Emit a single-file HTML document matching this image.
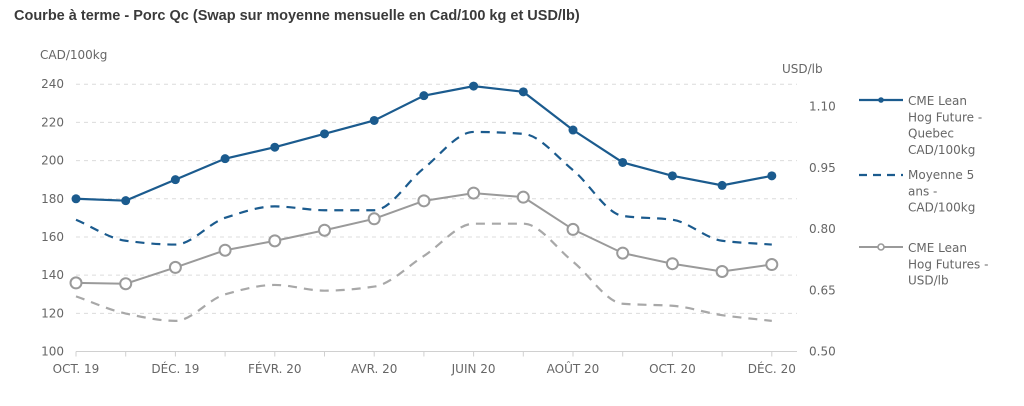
<!DOCTYPE html>
<html><head><meta charset="utf-8">
<style>
html,body{margin:0;padding:0;background:#fff;}
body{width:1024px;height:406px;overflow:hidden;position:relative;font-family:"Liberation Sans","DejaVu Sans",sans-serif;}
#title{position:absolute;left:14px;top:8px;font-size:14.5px;font-weight:bold;color:#3a3a3a;white-space:nowrap;}
svg{position:absolute;left:0;top:0;}
svg text{font-family:"DejaVu Sans","Liberation Sans",sans-serif;fill:#666;}
</style></head><body>
<div id="title">Courbe à terme - Porc Qc (Swap sur moyenne mensuelle en Cad/100 kg et USD/lb)</div>
<svg id="chart" width="1024" height="406"></svg>
<script>
const months = ["OCT. 19","NOV. 19","DÉC. 19","JANV. 20","FÉVR. 20","MARS 20","AVR. 20","MAI 20","JUIN 20","JUIL. 20","AOÛT 20","SEPT. 20","OCT. 20","NOV. 20","DÉC. 20"];
const monthLabelShown = [true,false,true,false,true,false,true,false,true,false,true,false,true,false,true];
const cmeQuebecCad = [180,179,190,201,207,214,221,234,239,236,216,199,192,187,192];
const avg5Cad = [169,158,156,170,176,174,174,196,215,214,195,171,169,158,156];
const cmeUsd = [0.668,0.666,0.706,0.748,0.771,0.797,0.825,0.869,0.888,0.878,0.799,0.741,0.715,0.696,0.713];
const avg5Usd = [0.635,0.593,0.575,0.640,0.663,0.649,0.659,0.734,0.813,0.813,0.720,0.617,0.612,0.589,0.575];
const leftTicks = [100,120,140,160,180,200,220,240];
const rightTicks = [0.50,0.65,0.80,0.95,1.10];

const NS="http://www.w3.org/2000/svg";
const svg=document.getElementById('chart');
const X0=76, DX=49.7, YB=351.5;
const x=i=>X0+i*DX;
const yL=v=>YB-(v-100)*(267.3/140);
const yR=v=>YB-(v-0.5)*408.3;
function mk(tag,attrs,parent){const e=document.createElementNS(NS,tag);for(const k in attrs)e.setAttribute(k,attrs[k]);(parent||svg).appendChild(e);return e;}
const BLUE="#1b5b8e", GRAY="#9a9a9a";

leftTicks.forEach(t=>{
  if(t>100){const g=mk('line',{x1:X0,x2:797,y1:yL(t),y2:yL(t),stroke:"#dcdcdc","stroke-width":1,"stroke-dasharray":"4,4"});
  
  }
  const tx=mk('text',{x:64,y:yL(t)+4,"text-anchor":"end","font-size":12});
  tx.textContent=t;
  
  
});
rightTicks.forEach(t=>{
  const tx=mk('text',{x:809,y:yR(t)+4,"font-size":12});
  tx.textContent=t.toFixed(2);
  
  
});
let a=mk('text',{x:40,y:59,"font-size":12});a.textContent="CAD/100kg";


a=mk('text',{x:782,y:73,"font-size":12});a.textContent="USD/lb";



const ax=mk('line',{x1:X0,x2:797,y1:YB,y2:YB,stroke:"#d0d0d0","stroke-width":1});


months.forEach((m,i)=>{
  mk('line',{x1:x(i),x2:x(i),y1:YB,y2:YB+5,stroke:"#d0d0d0","stroke-width":1});
  if(monthLabelShown[i]){const t=mk('text',{x:x(i),y:373,"text-anchor":"middle","font-size":12});t.textContent=m;
  
  }
});

// monotone cubic interpolation (no overshoot)
function monoPath(pts){
  const n=pts.length, dx=[], s=[], m=[];
  for(let i=0;i<n-1;i++){dx[i]=pts[i+1][0]-pts[i][0];s[i]=(pts[i+1][1]-pts[i][1])/dx[i];}
  m[0]=s[0];m[n-1]=s[n-2];
  for(let i=1;i<n-1;i++){
    if(s[i-1]*s[i]<=0)m[i]=0;
    else{const w1=2*dx[i]+dx[i-1],w2=dx[i]+2*dx[i-1];m[i]=(w1+w2)/(w1/s[i-1]+w2/s[i]);}
  }
  let d=`M${pts[0][0]},${pts[0][1]}`;
  for(let i=0;i<n-1;i++){
    const h=dx[i]/3;
    d+=` C${pts[i][0]+h},${pts[i][1]+m[i]*h} ${pts[i+1][0]-h},${pts[i+1][1]-m[i+1]*h} ${pts[i+1][0]},${pts[i+1][1]}`;
  }
  return d;
}
let p=mk('path',{d:monoPath(avg5Usd.map((v,i)=>[x(i),yR(v)])),fill:"none",stroke:"#a8a8a8","stroke-width":2.2,"stroke-dasharray":"9,7"});


p=mk('path',{d:monoPath(avg5Cad.map((v,i)=>[x(i),yL(v)])),fill:"none",stroke:BLUE,"stroke-width":2.2,"stroke-dasharray":"9,7"});


p=mk('polyline',{points:cmeUsd.map((v,i)=>x(i)+','+yR(v)).join(' '),fill:"none",stroke:GRAY,"stroke-width":2});


cmeUsd.forEach((v,i)=>{const c=mk('circle',{cx:x(i),cy:yR(v),r:5.5,fill:"#fff",stroke:GRAY,"stroke-width":2});

});
p=mk('polyline',{points:cmeQuebecCad.map((v,i)=>x(i)+','+yL(v)).join(' '),fill:"none",stroke:BLUE,"stroke-width":2.2});


cmeQuebecCad.forEach((v,i)=>{const c=mk('circle',{cx:x(i),cy:yL(v),r:4.5,fill:BLUE});

});

function legText(lines,y0){lines.forEach((s,k)=>{const t=mk('text',{x:908,y:y0+k*16.3,"font-size":12});t.textContent=s;

});}
let g=mk('g',{});
mk('line',{x1:859,x2:903,y1:100,y2:100,stroke:BLUE,"stroke-width":2.2},g);
mk('circle',{cx:881,cy:100,r:2.8,fill:BLUE},g);
legText(["CME Lean","Hog Future -","Quebec","CAD/100kg"],105);
g=mk('g',{});
mk('line',{x1:859,x2:903,y1:175,y2:175,stroke:BLUE,"stroke-width":2.2,"stroke-dasharray":"8,6"},g);
legText(["Moyenne 5","ans -","CAD/100kg"],179);
g=mk('g',{});
mk('line',{x1:859,x2:903,y1:247,y2:247,stroke:GRAY,"stroke-width":2},g);
mk('circle',{cx:881,cy:247,r:3,fill:"#fff",stroke:GRAY,"stroke-width":1.6},g);
legText(["CME Lean","Hog Futures -","USD/lb"],252);
</script>
</body></html>
